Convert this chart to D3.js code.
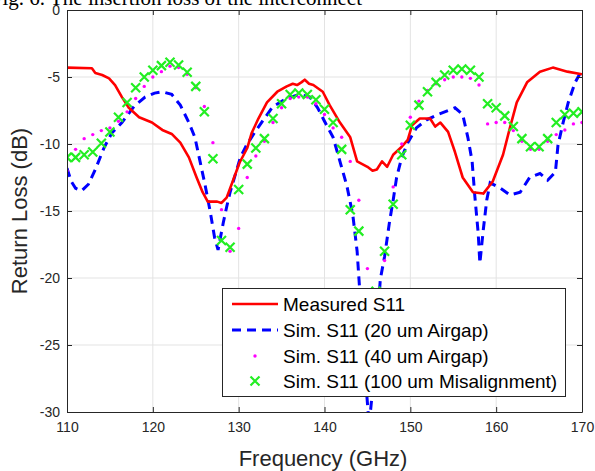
<!DOCTYPE html>
<html><head><meta charset="utf-8">
<script src="https://cdn.jsdelivr.net/npm/d3@7/dist/d3.min.js"></script>
<style>body{margin:0;background:#fff}svg{display:block}</style>
</head><body>
<svg id="c" width="595" height="471"></svg>
<script>
const xTicks = [110,120,130,140,150,160,170];
const yTicks = [0,-5,-10,-15,-20,-25,-30];
const legendLabels = ["Measured S11","Sim. S11 (20 um Airgap)","Sim. S11 (40 um Airgap)","Sim. S11 (100 um Misalignment)"];

const measF = [110,112.9,113.3,114.1,114.9,115.6,116.4,117.2,118.4,119.9,121.1,122.2,123.2,124.2,125.1,125.8,126.4,127.5,128,128.6,129.3,130.1,131,131.5,132.3,133.3,134.5,135.6,136.3,136.8,137.3,137.7,138.2,138.7,139.8,140.6,141.8,143,143.8,144.4,145,145.6,146.1,146.7,147.3,148,149,149.7,150.2,151.1,152.3,152.9,153.5,154.4,155.2,156.1,157.3,158.5,159.6,160.8,161.6,162.4,163.6,165.1,166.6,168.3,170];
const measDB = [-4.3,-4.35,-4.7,-4.85,-5.1,-5.6,-6.5,-7.3,-8.0,-8.4,-8.95,-9.25,-9.9,-11.0,-12.5,-13.6,-14.3,-14.3,-14.4,-14.0,-12.8,-11.4,-10.3,-9.2,-8.1,-6.9,-6.1,-5.7,-5.5,-5.6,-5.4,-5.2,-5.5,-5.6,-6.1,-7.1,-8.4,-9.5,-11.3,-11.5,-11.7,-12.0,-11.9,-11.3,-11.7,-10.8,-10.2,-9.7,-8.6,-8.1,-8.1,-8.7,-8.4,-9.1,-10.6,-12.5,-13.6,-13.7,-12.8,-10.8,-8.8,-6.9,-5.4,-4.6,-4.3,-4.6,-4.8];

const sim20F = [110,110.5,111,111.7,112.5,113.3,114.3,115.2,116.4,117.8,119.1,120.2,121.1,122.2,123.2,124.2,124.9,125.5,126.1,126.7,127.2,127.6,128.2,128.6,129,129.6,130.2,130.9,131.9,133.1,134,135.6,137.1,138.3,139.2,140,141,141.8,142.6,143.3,143.8,144.1,144.6,145.2,145.8,146.5,147,147.6,148,148.4,149,149.7,150.7,151.9,153.2,154.4,155.2,156.1,156.7,157.2,157.5,157.9,158.1,158.5,158.9,159.3,160.5,161.6,162.8,163.9,165.1,166,166.9,167.2,167.8,168.4,169.2,169.8];
const sim20DB = [-11.8,-12.8,-13.3,-13.5,-13.0,-11.9,-10.3,-9.2,-8.4,-7.2,-6.5,-6.2,-6.1,-6.3,-7.1,-8.4,-9.5,-11.3,-13.1,-15.1,-17.0,-17.9,-15.9,-14.7,-13.6,-12.3,-11.0,-10.1,-9.1,-8.0,-7.2,-6.6,-6.3,-6.5,-7.3,-8.3,-9.5,-11.3,-13.1,-15.3,-18.0,-20.9,-26,-31,-27,-20.1,-18.4,-15.7,-14.2,-12.5,-11.0,-9.9,-8.8,-8.2,-7.8,-7.5,-7.3,-7.8,-9.5,-11.3,-13.8,-16.6,-18.9,-16.4,-14.2,-12.9,-13.3,-13.8,-13.6,-12.5,-12.2,-12.7,-12.1,-10.1,-8.4,-6.9,-5.4,-4.7];

const simF = [110,111,112,113,114,115,116,117,118,119,120,121,122,123,124,125,126,127,128,129,130,131,132,133,134,135,136,137,138,139,140,141,142,143,144,145,146,147,148,149,150,151,152,153,154,155,156,157,158,159,160,161,162,163,164,165,166,167,168,169,170];
const sim40DB = [-12.0,-10.4,-9.6,-9.3,-9.0,-8.8,-8.3,-7.6,-6.6,-5.7,-5.0,-4.6,-4.2,-4.3,-4.8,-5.8,-7.2,-9.9,-14.9,-18.0,-16.3,-12.5,-10.9,-9.8,-8.4,-7.3,-6.6,-6.5,-6.5,-7.0,-7.8,-8.8,-9.5,-11.3,-14.2,-19.3,-21.5,-18.7,-13.2,-10.0,-8.0,-6.8,-6.0,-5.5,-5.2,-5.0,-5.0,-5.1,-5.6,-8.5,-8.4,-8.4,-9.0,-9.8,-10.4,-10.4,-9.8,-9.3,-8.95,-8.5,-8.4];
const sim100DB = [-11.0,-11.0,-10.8,-10.6,-9.95,-9.1,-8.0,-6.9,-5.8,-5.0,-4.5,-4.15,-3.9,-4.1,-4.65,-5.7,-7.6,-11.1,-17.2,-17.7,-13.4,-11.5,-10.3,-9.6,-8.1,-7.0,-6.3,-6.2,-6.3,-6.7,-7.4,-8.4,-10.4,-14.9,-16.5,-21.5,-21.0,-18.0,-14.5,-10.8,-8.6,-7.1,-6.1,-5.4,-4.85,-4.5,-4.4,-4.5,-5.0,-7.0,-7.3,-7.9,-8.7,-9.6,-10.2,-10.2,-9.6,-8.4,-7.8,-7.7,-7.6];

const W = 595, H = 471;
const m = {l:67, r:13, t:10, b:59};
const pw = W - m.l - m.r, ph = H - m.t - m.b;
const svg = d3.select("#c");
const x = d3.scaleLinear().domain([110,170]).range([m.l, m.l+pw]);
const y = d3.scaleLinear().domain([-30,0]).range([m.t+ph, m.t]);
const axisCol = "#262626";
const font = "'Liberation Sans', Arial, Helvetica, sans-serif";

// title fragment (cropped at top edge)
svg.append("text").attr("x", 362).attr("y", 5).attr("text-anchor","end")
  .attr("font-family","'Liberation Serif', 'Times New Roman', serif").attr("font-size",21).attr("fill","#000")
  .text("Fig. 6.   The insertion loss of the interconnect");

// grid
const g = svg.append("g");
g.selectAll(".gx").data(xTicks.slice(1,-1)).join("line")
  .attr("x1",d=>x(d)).attr("x2",d=>x(d)).attr("y1",m.t).attr("y2",m.t+ph)
  .attr("stroke","#e3e3e3").attr("stroke-width",1);
g.selectAll(".gy").data(yTicks.slice(1,-1)).join("line")
  .attr("y1",d=>y(d)).attr("y2",d=>y(d)).attr("x1",m.l).attr("x2",m.l+pw)
  .attr("stroke","#e3e3e3").attr("stroke-width",1);

svg.append("defs").append("clipPath").attr("id","clip").append("rect")
  .attr("x",m.l).attr("y",m.t).attr("width",pw).attr("height",ph);
const plot = svg.append("g").attr("clip-path","url(#clip)");

const line = d3.line().x(d=>x(d[0])).y(d=>y(d[1]));
plot.append("path").datum(sim20F.map((f,i)=>[f,sim20DB[i]]))
  .attr("d",line).attr("fill","none").attr("stroke","#0000ff").attr("stroke-width",3)
  .attr("stroke-dasharray","9,6");
plot.append("path").datum(measF.map((f,i)=>[f,measDB[i]]))
  .attr("d",line).attr("fill","none").attr("stroke","#ff0000").attr("stroke-width",2.6)
  .attr("stroke-linejoin","round");
plot.selectAll(".dot").data(simF.map((f,i)=>[f,sim40DB[i]])).join("circle")
  .attr("cx",d=>x(d[0])).attr("cy",d=>y(d[1])).attr("r",1.7).attr("fill","#ff00ff");
const xs = 4.5;
plot.selectAll(".xm").data(simF.map((f,i)=>[f,sim100DB[i]])).join("path")
  .attr("d",d=>{const cx=x(d[0]),cy=y(d[1]);return `M${cx-xs},${cy-xs}L${cx+xs},${cy+xs}M${cx-xs},${cy+xs}L${cx+xs},${cy-xs}`;})
  .attr("stroke","#22ee22").attr("stroke-width",2.2).attr("fill","none");

// axes
const fmt = d => String(d);
const xa = svg.append("g").attr("transform",`translate(0,${m.t+ph})`)
  .call(d3.axisBottom(x).tickValues(xTicks).tickFormat(fmt).tickSizeInner(-5).tickSizeOuter(0).tickPadding(10));
const xt = svg.append("g").attr("transform",`translate(0,${m.t})`)
  .call(d3.axisTop(x).tickValues(xTicks).tickSizeInner(-5).tickSizeOuter(0).tickFormat(""));
const ya = svg.append("g").attr("transform",`translate(${m.l},0)`)
  .call(d3.axisLeft(y).tickValues(yTicks).tickFormat(fmt).tickSizeInner(-5).tickSizeOuter(0).tickPadding(7));
const yr = svg.append("g").attr("transform",`translate(${m.l+pw},0)`)
  .call(d3.axisRight(y).tickValues(yTicks).tickSizeInner(-5).tickSizeOuter(0).tickFormat(""));
[xa,xt,ya,yr].forEach(a=>{
  a.selectAll("path").attr("stroke",axisCol).attr("stroke-width",1);
  a.selectAll("line").attr("stroke",axisCol);
  a.selectAll("text").attr("font-family",font).attr("font-size",14).attr("fill",axisCol);
});

// axis titles
svg.append("text").attr("x", 323).attr("y", 466).attr("text-anchor","middle")
  .attr("font-family",font).attr("font-size",22).attr("fill",axisCol).text("Frequency (GHz)");
svg.append("text").attr("transform",`translate(27,${m.t+ph/2}) rotate(-90)`).attr("text-anchor","middle")
  .attr("font-family",font).attr("font-size",22).attr("fill",axisCol).text("Return Loss (dB)");

// legend
const lg = svg.append("g");
lg.append("rect").attr("x",222.5).attr("y",288.5).attr("width",343).attr("height",108)
  .attr("fill","#fff").attr("stroke","#262626").attr("stroke-width",1);
const ly = [304,330,356,381];
lg.append("line").attr("x1",232).attr("x2",278).attr("y1",ly[0]).attr("y2",ly[0])
  .attr("stroke","#ff0000").attr("stroke-width",2.6);
lg.append("line").attr("x1",232).attr("x2",278).attr("y1",ly[1]).attr("y2",ly[1])
  .attr("stroke","#0000ff").attr("stroke-width",3).attr("stroke-dasharray","9,6");
lg.append("circle").attr("cx",255).attr("cy",ly[2]).attr("r",1.7).attr("fill","#ff00ff");
lg.append("path").attr("d",`M${255-xs},${ly[3]-xs}L${255+xs},${ly[3]+xs}M${255-xs},${ly[3]+xs}L${255+xs},${ly[3]-xs}`)
  .attr("stroke","#22ee22").attr("stroke-width",2.2);
lg.selectAll(".lt").data(legendLabels).join("text")
  .attr("x",283).attr("y",(d,i)=>ly[i]).attr("dy","0.36em")
  .attr("font-family",font).attr("font-size",19).attr("fill","#000").text(d=>d);
</script>
</body></html>
